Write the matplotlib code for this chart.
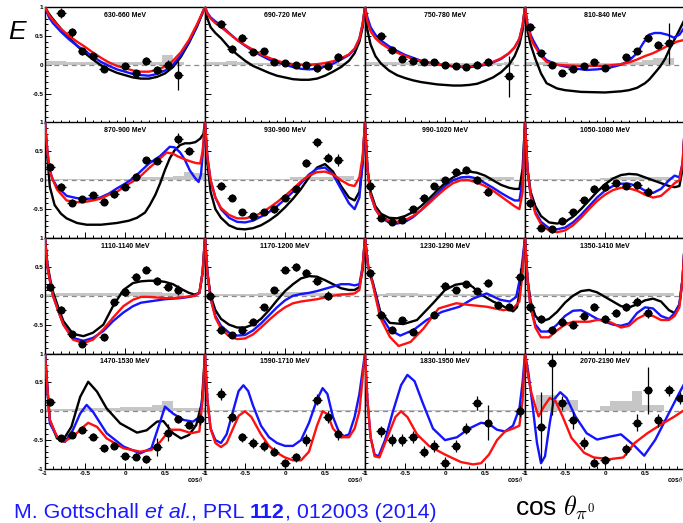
import numpy as np
import matplotlib
matplotlib.use("Agg")
import matplotlib.pyplot as plt
from matplotlib.ticker import MultipleLocator, FuncFormatter

plt.rcParams['font.family'] = ['Liberation Sans', 'DejaVu Sans']
plt.rcParams['mathtext.fontset'] = 'cm'
plt.rcParams['axes.unicode_minus'] = False

nan = np.nan

ENERGY_BINS = ["630-660 MeV", "690-720 MeV", "750-780 MeV", "810-840 MeV",
               "870-900 MeV", "930-960 MeV", "990-1020 MeV", "1050-1080 MeV",
               "1110-1140 MeV", "1170-1200 MeV", "1230-1290 MeV", "1350-1410 MeV",
               "1470-1530 MeV", "1590-1710 MeV", "1830-1950 MeV", "2070-2190 MeV"]

# cos(theta) bin centres of the measurement (15 bins)
COS_CENTERS = [-0.933, -0.8, -0.667, -0.533, -0.4, -0.267, -0.133, 0.0,
               0.133, 0.267, 0.4, 0.533, 0.667, 0.8, 0.933]
BIN_WIDTH = 0.1333

# ---- measured E, statistical errors, systematic errors (grey) ----
E_1 = [nan, 0.90, 0.56, 0.23, 0.15, -0.07, nan, -0.03, -0.15, 0.07, -0.09, 0.0, -0.18, nan, nan]
ERR_1 = [0, 0.09, 0.08, 0.06, 0.05, 0.06, 0, 0.05, 0.06, 0.06, 0.07, 0.08, 0.25, 0, 0]
SYS_1 = [0.06, 0.06, 0.05, 0.05, 0.04, 0.04, 0.04, 0.04, 0.04, 0.04, 0.05, 0.17, 0.04, 0, 0]

E_2 = [nan, 0.71, 0.28, 0.47, 0.22, 0.24, 0.05, 0.03, 0.0, 0.0, -0.06, -0.03, 0.13, nan, nan]
ERR_2 = [0, 0.07, 0.07, 0.06, 0.05, 0.05, 0.05, 0.05, 0.05, 0.05, 0.06, 0.06, 0.08, 0, 0]
SYS_2 = [0.04, 0.04, 0.07, 0.04, 0.03, 0.03, 0.03, 0.03, 0.03, 0.03, 0.03, 0.03, 0.03, 0, 0]

E_3 = [nan, 0.5, 0.25, 0.1, 0.07, 0.05, 0.05, 0.0, -0.02, -0.04, 0.0, 0.05, nan, -0.2, nan]
ERR_3 = [0, 0.07, 0.06, 0.05, 0.05, 0.05, 0.05, 0.05, 0.05, 0.05, 0.06, 0.07, 0, 0.35, 0]
SYS_3 = [0.04, 0.04, 0.04, 0.04, 0.03, 0.03, 0.03, 0.03, 0.03, 0.03, 0.03, 0.03, 0.03, 0.05, 0]

E_4 = [0.65, 0.2, 0.0, -0.14, -0.08, -0.03, 0.04, -0.06, nan, 0.14, 0.24, 0.46, 0.34, 0.37, nan]
ERR_4 = [0.07, 0.06, 0.05, 0.05, 0.05, 0.05, 0.05, 0.05, 0, 0.05, 0.05, 0.06, 0.07, 0.35, 0]
SYS_4 = [0.04, 0.04, 0.04, 0.04, 0.03, 0.03, 0.03, 0.03, 0.03, 0.04, 0.05, 0.08, 0.12, 0.12, 0]

E_5 = [0.23, -0.11, -0.39, -0.33, -0.26, -0.37, -0.24, -0.11, 0.06, 0.35, 0.34, nan, 0.72, 0.5, nan]
ERR_5 = [0.07, 0.06, 0.06, 0.05, 0.05, 0.06, 0.06, 0.06, 0.06, 0.06, 0.06, 0, 0.09, 0.07, 0]
SYS_5 = [0.03, 0.03, 0.03, 0.03, 0.03, 0.03, 0.03, 0.03, 0.04, 0.05, 0.06, 0.06, 0.08, 0.15, 0.12]

E_6 = [nan, -0.1, -0.3, -0.55, -0.62, -0.55, -0.5, -0.3, -0.15, 0.3, 0.66, 0.39, 0.35, nan, nan]
ERR_6 = [0, 0.07, 0.06, 0.06, 0.06, 0.06, 0.06, 0.06, 0.06, 0.07, 0.08, 0.08, 0.1, 0, 0]
SYS_6 = [0.03, 0.03, 0.03, 0.03, 0.03, 0.03, 0.03, 0.03, 0.05, 0.05, 0.06, 0.06, 0.08, 0.08, 0]

E_7 = [-0.1, -0.65, -0.72, -0.68, -0.5, -0.3, -0.1, 0.0, 0.15, 0.18, 0.0, -0.2, nan, nan, nan]
ERR_7 = [0.1, 0.06, 0.06, 0.06, 0.06, 0.06, 0.06, 0.06, 0.06, 0.06, 0.07, 0.08, 0, 0, 0]
SYS_7 = [0.03, 0.03, 0.03, 0.03, 0.03, 0.03, 0.03, 0.04, 0.04, 0.04, 0.05, 0.05, 0.05, 0.05, 0]

E_8 = [-0.4, -0.82, -0.85, -0.7, -0.55, -0.35, -0.15, -0.12, -0.05, -0.1, -0.08, -0.2, nan, nan, nan]
ERR_8 = [0.08, 0.06, 0.06, 0.06, 0.06, 0.06, 0.06, 0.06, 0.06, 0.06, 0.07, 0.08, 0, 0, 0]
SYS_8 = [0.03, 0.03, 0.03, 0.03, 0.03, 0.03, 0.03, 0.04, 0.05, 0.05, 0.06, 0.06, 0.06, 0.06, 0]

E_9 = [0.15, -0.24, -0.67, -0.83, nan, -0.72, -0.11, 0.06, 0.33, 0.45, 0.25, 0.15, 0.1, nan, nan]
ERR_9 = [0.06, 0.06, 0.06, 0.06, 0, 0.06, 0.06, 0.06, 0.06, 0.06, 0.07, 0.07, 0.08, 0, 0]
SYS_9 = [0.03, 0.04, 0.04, 0.04, 0.04, 0.05, 0.05, 0.07, 0.07, 0.07, 0.06, 0.05, 0.04, 0, 0]

E_10 = [0.0, -0.6, -0.68, -0.6, -0.45, -0.2, 0.1, 0.45, 0.5, 0.4, 0.25, 0.0, nan, nan, nan]
ERR_10 = [0.08, 0.06, 0.06, 0.06, 0.06, 0.06, 0.06, 0.06, 0.07, 0.07, 0.07, 0.08, 0, 0, 0]
SYS_10 = [0.03, 0.03, 0.03, 0.03, 0.03, 0.04, 0.05, 0.06, 0.06, 0.06, 0.05, 0.05, 0.05, 0.05, 0]

E_11 = [0.39, -0.33, -0.59, -0.42, -0.62, nan, -0.33, 0.17, 0.1, 0.2, 0.08, 0.22, -0.16, -0.19, 0.33]
ERR_11 = [0.08, 0.06, 0.06, 0.06, 0.06, 0, 0.06, 0.06, 0.06, 0.06, 0.06, 0.07, 0.06, 0.06, 0.15]
SYS_11 = [0.03, 0.03, 0.05, 0.05, 0.04, 0.03, 0.03, 0.03, 0.03, 0.03, 0.03, 0.03, 0.03, 0.03, 0.03]

E_12 = [-0.2, -0.4, -0.6, -0.45, -0.5, -0.35, -0.2, -0.4, -0.3, -0.2, -0.1, -0.3, nan, nan, nan]
ERR_12 = [0.08, 0.07, 0.07, 0.07, 0.07, 0.07, 0.07, 0.07, 0.07, 0.07, 0.08, 0.09, 0, 0, 0]
SYS_12 = [0.03, 0.03, 0.03, 0.03, 0.03, 0.03, 0.03, 0.05, 0.05, 0.05, 0.05, 0.05, 0.05, 0.05, 0]

E_13 = [0.16, -0.47, -0.41, -0.32, -0.44, -0.64, -0.6, -0.78, -0.79, -0.83, -0.62, -0.37, -0.14, -0.24, -0.14]
ERR_13 = [0.07, 0.06, 0.06, 0.06, 0.06, 0.06, 0.06, 0.06, 0.06, 0.06, 0.15, 0.15, 0.07, 0.06, 0.1]
SYS_13 = [0.04, 0.04, 0.04, 0.05, 0.06, 0.06, 0.06, 0.07, 0.07, 0.07, 0.11, 0.18, 0.05, 0.05, 0.05]

E_14 = [nan, 0.3, -0.1, -0.45, -0.55, -0.6, -0.7, -0.9, -0.8, -0.5, 0.2, -0.1, -0.4, nan, nan]
ERR_14 = [0, 0.1, 0.08, 0.08, 0.08, 0.08, 0.08, 0.08, 0.08, 0.1, 0.1, 0.1, 0.1, 0, 0]
SYS_14 = [0.03, 0.03, 0.03, 0.03, 0.03, 0.03, 0.03, 0.03, 0.03, 0.03, 0.03, 0.03, 0.03, 0.03, 0.03]

E_15 = [nan, -0.35, -0.5, -0.5, -0.45, -0.7, -0.6, -0.9, -0.6, -0.3, 0.15, -0.2, nan, nan, 0.0]
ERR_15 = [0, 0.1, 0.1, 0.1, 0.1, 0.1, 0.1, 0.1, 0.1, 0.1, 0.12, 0.3, 0, 0, 0.1]
SYS_15 = [0.02, 0.02, 0.02, 0.02, 0.02, 0.02, 0.02, 0.02, 0.02, 0.02, 0.02, 0.02, 0.02, 0.02, 0.02]

E_16 = [nan, -0.27, 0.83, 0.15, -0.16, -0.55, -0.89, -0.85, nan, -0.66, -0.2, 0.36, -0.16, 0.36, 0.23]
ERR_16 = [0, 0.6, 0.9, 0.12, 0.15, 0.1, 0.08, 0.08, 0, 0.1, 0.15, 0.4, 0.12, 0.1, 0.1]
SYS_16 = [0.0, 0.29, 0.29, 0.2, 0.2, 0.03, 0.03, 0.09, 0.18, 0.18, 0.35, 0.1, 0.1, 0, 0]

# ---- PWA curves: (cos theta, E) ----
BLACK_1 = [(-1, 1), (-0.95, 0.88), (-0.9, 0.79), (-0.8, 0.62), (-0.7, 0.47), (-0.6, 0.33), (-0.5, 0.2),
           (-0.4, 0.09), (-0.3, -0.01), (-0.2, -0.08), (-0.1, -0.14), (0, -0.18), (0.1, -0.22), (0.2, -0.24),
           (0.3, -0.24), (0.4, -0.21), (0.5, -0.15), (0.6, -0.04), (0.7, 0.14), (0.8, 0.38), (0.9, 0.66), (1, 1)]
BLUE_1 = [(-1, 1), (-0.95, 0.82), (-0.9, 0.72), (-0.8, 0.57), (-0.7, 0.44), (-0.6, 0.33), (-0.5, 0.24),
          (-0.4, 0.14), (-0.3, 0.05), (-0.2, -0.02), (-0.1, -0.08), (0, -0.12), (0.1, -0.16), (0.2, -0.18),
          (0.3, -0.19), (0.4, -0.16), (0.5, -0.1), (0.6, 0.0), (0.7, 0.17), (0.8, 0.4), (0.9, 0.68), (1, 1)]
RED_1 = [(-1, 1), (-0.95, 0.86), (-0.9, 0.77), (-0.8, 0.62), (-0.7, 0.5), (-0.6, 0.4), (-0.5, 0.31),
         (-0.4, 0.21), (-0.3, 0.12), (-0.2, 0.04), (-0.1, -0.02), (0, -0.06), (0.1, -0.1), (0.2, -0.12),
         (0.3, -0.12), (0.4, -0.09), (0.5, -0.03), (0.6, 0.07), (0.7, 0.22), (0.8, 0.43), (0.9, 0.7), (1, 1)]

BLACK_2 = [(-1, 1), (-0.97, 0.8), (-0.93, 0.65), (-0.87, 0.55), (-0.8, 0.46), (-0.7, 0.3), (-0.6, 0.18),
           (-0.5, 0.07), (-0.4, -0.02), (-0.3, -0.08), (-0.2, -0.14), (-0.1, -0.19), (0, -0.22), (0.1, -0.25),
           (0.2, -0.26), (0.3, -0.26), (0.4, -0.24), (0.5, -0.19), (0.6, -0.12), (0.7, -0.04), (0.8, 0.07),
           (0.87, 0.2), (0.93, 0.4), (0.97, 0.65), (1, 1)]
BLUE_2 = [(-1, 1), (-0.97, 0.9), (-0.93, 0.82), (-0.87, 0.75), (-0.8, 0.68), (-0.7, 0.55), (-0.6, 0.43),
          (-0.5, 0.33), (-0.4, 0.24), (-0.3, 0.16), (-0.2, 0.09), (-0.1, 0.04), (0, 0.0), (0.1, -0.04),
          (0.2, -0.07), (0.3, -0.08), (0.4, -0.07), (0.5, -0.03), (0.6, 0.02), (0.7, 0.09), (0.8, 0.17),
          (0.87, 0.27), (0.93, 0.45), (0.97, 0.7), (1, 1)]
RED_2 = [(-1, 1), (-0.97, 0.88), (-0.93, 0.8), (-0.87, 0.72), (-0.8, 0.65), (-0.7, 0.54), (-0.6, 0.43),
         (-0.5, 0.34), (-0.4, 0.26), (-0.3, 0.18), (-0.2, 0.12), (-0.1, 0.07), (0, 0.03), (0.1, 0.01),
         (0.2, 0.0), (0.3, 0.0), (0.4, 0.01), (0.5, 0.03), (0.6, 0.06), (0.7, 0.11), (0.8, 0.18),
         (0.87, 0.28), (0.93, 0.45), (0.97, 0.7), (1, 1)]

BLACK_3 = [(-1, 1), (-0.97, 0.6), (-0.93, 0.35), (-0.87, 0.15), (-0.8, 0.02), (-0.7, -0.1), (-0.6, -0.18),
           (-0.5, -0.23), (-0.4, -0.27), (-0.3, -0.3), (-0.2, -0.32), (-0.1, -0.34), (0, -0.35), (0.1, -0.36),
           (0.2, -0.36), (0.3, -0.35), (0.4, -0.33), (0.5, -0.28), (0.6, -0.22), (0.7, -0.13), (0.8, 0.0),
           (0.87, 0.15), (0.93, 0.35), (0.97, 0.6), (1, 1)]
BLUE_3 = [(-1, 1), (-0.97, 0.82), (-0.93, 0.65), (-0.87, 0.52), (-0.8, 0.42), (-0.7, 0.32), (-0.6, 0.24),
          (-0.5, 0.17), (-0.4, 0.12), (-0.3, 0.07), (-0.2, 0.04), (-0.1, 0.01), (0, -0.01), (0.1, -0.03),
          (0.2, -0.04), (0.3, -0.04), (0.4, -0.03), (0.5, 0.0), (0.6, 0.04), (0.7, 0.1), (0.8, 0.2),
          (0.87, 0.3), (0.93, 0.45), (0.97, 0.68), (1, 1)]
RED_3 = [(-1, 1), (-0.97, 0.75), (-0.93, 0.58), (-0.87, 0.46), (-0.8, 0.37), (-0.7, 0.28), (-0.6, 0.21),
         (-0.5, 0.15), (-0.4, 0.1), (-0.3, 0.06), (-0.2, 0.03), (-0.1, 0.01), (0, -0.01), (0.1, -0.02),
         (0.2, -0.03), (0.3, -0.03), (0.4, -0.02), (0.5, 0.01), (0.6, 0.05), (0.7, 0.11), (0.8, 0.2),
         (0.87, 0.3), (0.93, 0.45), (0.97, 0.68), (1, 1)]

BLACK_4 = [(-1, 1), (-0.97, 0.6), (-0.93, 0.35), (-0.87, 0.1), (-0.8, -0.15), (-0.73, -0.32), (-0.6, -0.41),
           (-0.5, -0.44), (-0.3, -0.47), (0, -0.48), (0.2, -0.46), (0.3, -0.44), (0.4, -0.4), (0.5, -0.32),
           (0.55, -0.26), (0.6, -0.18), (0.69, -0.03), (0.75, 0.1), (0.82, 0.31), (0.9, 0.52), (0.99, 0.77), (1, 1)]
BLUE_4 = [(-1, 1), (-0.97, 0.72), (-0.93, 0.52), (-0.9, 0.43), (-0.8, 0.18), (-0.73, 0.08), (-0.6, 0.0),
          (-0.5, -0.03), (-0.4, -0.06), (-0.23, -0.09), (-0.1, -0.08), (0.03, -0.06), (0.2, 0.0), (0.3, 0.07),
          (0.4, 0.2), (0.48, 0.38), (0.55, 0.52), (0.62, 0.55), (0.69, 0.55), (0.78, 0.52), (0.86, 0.47),
          (0.93, 0.52), (0.99, 0.64), (1, 1)]
RED_4 = [(-1, 1), (-0.97, 0.7), (-0.93, 0.48), (-0.9, 0.37), (-0.8, 0.15), (-0.73, 0.05), (-0.6, 0.0),
         (-0.5, -0.01), (-0.3, -0.02), (0, -0.02), (0.2, 0.01), (0.3, 0.04), (0.4, 0.09), (0.5, 0.15),
         (0.6, 0.2), (0.69, 0.26), (0.8, 0.34), (0.9, 0.4), (0.99, 0.43), (1, 1)]

BLACK_5 = [(-1, 1), (-0.97, 0.4), (-0.94, -0.11), (-0.88, -0.43), (-0.8, -0.58), (-0.73, -0.66), (-0.6, -0.74),
           (-0.48, -0.77), (-0.3, -0.77), (-0.1, -0.74), (0.05, -0.7), (0.15, -0.65), (0.25, -0.56), (0.31, -0.43),
           (0.38, -0.25), (0.44, -0.05), (0.5, 0.18), (0.56, 0.38), (0.62, 0.52), (0.69, 0.61), (0.75, 0.64),
           (0.81, 0.64), (0.88, 0.66), (0.94, 0.72), (0.98, 0.8), (1, 1)]
BLUE_5 = [(-1, 1), (-0.97, 0.5), (-0.94, 0.17), (-0.9, 0.0), (-0.85, -0.11), (-0.73, -0.27), (-0.6, -0.31),
          (-0.52, -0.32), (-0.4, -0.32), (-0.31, -0.3), (-0.2, -0.23), (-0.1, -0.14), (0.0, -0.06), (0.1, 0.03),
          (0.2, 0.16), (0.3, 0.29), (0.44, 0.42), (0.56, 0.58), (0.62, 0.57), (0.69, 0.48), (0.75, 0.35),
          (0.81, 0.17), (0.87, 0.05), (0.92, -0.03), (0.95, 0.1), (0.98, 0.6), (1, 1)]
RED_5 = [(-1, 1), (-0.97, 0.5), (-0.94, 0.15), (-0.9, 0.0), (-0.85, -0.16), (-0.73, -0.35), (-0.6, -0.38),
         (-0.52, -0.38), (-0.4, -0.35), (-0.31, -0.32), (-0.2, -0.25), (-0.1, -0.2), (0, -0.1), (0.1, -0.02),
         (0.2, 0.08), (0.3, 0.21), (0.4, 0.33), (0.52, 0.48), (0.6, 0.46), (0.65, 0.42), (0.75, 0.36),
         (0.81, 0.33), (0.88, 0.3), (0.94, 0.29), (0.97, 0.5), (1, 1)]

BLACK_6 = [(-1, 1), (-0.97, 0.3), (-0.93, -0.2), (-0.87, -0.5), (-0.8, -0.65), (-0.7, -0.78), (-0.6, -0.84),
           (-0.5, -0.85), (-0.4, -0.83), (-0.3, -0.78), (-0.2, -0.7), (-0.1, -0.6), (0, -0.47), (0.1, -0.32),
           (0.2, -0.15), (0.3, 0.05), (0.4, 0.22), (0.5, 0.28), (0.6, 0.15), (0.7, -0.1), (0.8, -0.3),
           (0.87, -0.35), (0.93, -0.2), (0.97, 0.3), (1, 1)]
BLUE_6 = [(-1, 1), (-0.97, 0.4), (-0.93, 0.0), (-0.87, -0.3), (-0.8, -0.5), (-0.7, -0.65), (-0.6, -0.72),
          (-0.5, -0.73), (-0.4, -0.7), (-0.3, -0.63), (-0.2, -0.55), (-0.1, -0.45), (0, -0.33), (0.1, -0.2),
          (0.2, -0.05), (0.3, 0.1), (0.4, 0.2), (0.5, 0.22), (0.6, 0.1), (0.7, -0.15), (0.8, -0.4),
          (0.87, -0.5), (0.93, -0.3), (0.97, 0.3), (1, 1)]
RED_6 = [(-1, 1), (-0.97, 0.4), (-0.93, 0.0), (-0.87, -0.3), (-0.8, -0.48), (-0.7, -0.6), (-0.6, -0.66),
         (-0.5, -0.66), (-0.4, -0.63), (-0.3, -0.57), (-0.2, -0.48), (-0.1, -0.38), (0, -0.27), (0.1, -0.15),
         (0.2, -0.02), (0.3, 0.08), (0.4, 0.14), (0.5, 0.15), (0.6, 0.1), (0.7, 0.0), (0.8, -0.08),
         (0.87, -0.1), (0.93, 0.05), (0.97, 0.4), (1, 1)]

BLACK_7 = [(-1, 1), (-0.97, 0.2), (-0.93, -0.2), (-0.87, -0.45), (-0.8, -0.58), (-0.7, -0.65), (-0.6, -0.66),
           (-0.5, -0.62), (-0.4, -0.55), (-0.3, -0.45), (-0.2, -0.32), (-0.1, -0.18), (0, -0.05), (0.1, 0.05),
           (0.2, 0.12), (0.3, 0.15), (0.4, 0.13), (0.5, 0.08), (0.6, 0.0), (0.7, -0.08), (0.8, -0.13),
           (0.87, -0.15), (0.93, -0.15), (0.97, 0.2), (1, 1)]
BLUE_7 = [(-1, 1), (-0.97, 0.2), (-0.93, -0.25), (-0.87, -0.5), (-0.8, -0.65), (-0.7, -0.73), (-0.6, -0.75),
          (-0.5, -0.72), (-0.4, -0.64), (-0.3, -0.52), (-0.2, -0.38), (-0.1, -0.24), (0, -0.1), (0.1, 0.0),
          (0.2, 0.05), (0.3, 0.06), (0.4, 0.03), (0.5, -0.05), (0.6, -0.13), (0.7, -0.22), (0.8, -0.3),
          (0.87, -0.35), (0.93, -0.35), (0.97, 0.0), (1, 1)]
RED_7 = [(-1, 1), (-0.97, 0.2), (-0.93, -0.25), (-0.87, -0.5), (-0.8, -0.63), (-0.7, -0.7), (-0.6, -0.72),
         (-0.5, -0.69), (-0.4, -0.62), (-0.3, -0.52), (-0.2, -0.4), (-0.1, -0.27), (0, -0.15), (0.1, -0.05),
         (0.2, 0.0), (0.3, 0.0), (0.4, -0.04), (0.5, -0.1), (0.6, -0.18), (0.7, -0.28), (0.8, -0.38),
         (0.87, -0.45), (0.93, -0.5), (0.97, -0.2), (1, 1)]

BLACK_8 = [(-1, 1), (-0.97, 0.2), (-0.93, -0.2), (-0.87, -0.45), (-0.8, -0.62), (-0.7, -0.73), (-0.6, -0.75),
           (-0.5, -0.72), (-0.4, -0.63), (-0.3, -0.5), (-0.2, -0.35), (-0.1, -0.2), (0, -0.07), (0.1, 0.03),
           (0.2, 0.09), (0.3, 0.11), (0.4, 0.1), (0.5, 0.05), (0.6, 0.0), (0.7, -0.05), (0.8, -0.1),
           (0.87, -0.12), (0.93, -0.1), (0.97, 0.2), (1, 1)]
BLUE_8 = [(-1, 1), (-0.97, 0.2), (-0.93, -0.25), (-0.87, -0.55), (-0.8, -0.72), (-0.7, -0.83), (-0.6, -0.85),
          (-0.5, -0.82), (-0.4, -0.73), (-0.3, -0.6), (-0.2, -0.45), (-0.1, -0.3), (0, -0.18), (0.1, -0.1),
          (0.2, -0.06), (0.3, -0.06), (0.4, -0.1), (0.5, -0.18), (0.6, -0.22), (0.7, -0.15), (0.8, 0.0),
          (0.87, 0.08), (0.93, 0.05), (0.97, 0.3), (1, 1)]
RED_8 = [(-1, 1), (-0.97, 0.2), (-0.93, -0.25), (-0.87, -0.58), (-0.8, -0.76), (-0.7, -0.87), (-0.6, -0.9),
         (-0.5, -0.87), (-0.4, -0.78), (-0.3, -0.65), (-0.2, -0.5), (-0.1, -0.36), (0, -0.25), (0.1, -0.17),
         (0.2, -0.13), (0.3, -0.14), (0.4, -0.18), (0.5, -0.25), (0.6, -0.3), (0.7, -0.27), (0.8, -0.15),
         (0.87, -0.05), (0.93, 0.0), (0.97, 0.3), (1, 1)]

BLACK_9 = [(-1, 1), (-0.97, 0.55), (-0.93, 0.25), (-0.9, 0.07), (-0.83, -0.22), (-0.77, -0.44), (-0.65, -0.66),
           (-0.52, -0.7), (-0.4, -0.64), (-0.27, -0.5), (-0.15, -0.18), (-0.02, 0.1), (0.1, 0.22), (0.2, 0.25),
           (0.3, 0.26), (0.4, 0.26), (0.5, 0.24), (0.6, 0.2), (0.7, 0.12), (0.8, 0.05), (0.87, 0.02),
           (0.93, 0.05), (0.97, 0.4), (1, 1)]
BLUE_9 = [(-1, 1), (-0.97, 0.5), (-0.93, 0.2), (-0.9, 0.0), (-0.83, -0.28), (-0.77, -0.5), (-0.65, -0.73),
          (-0.52, -0.78), (-0.4, -0.73), (-0.27, -0.61), (-0.15, -0.44), (-0.02, -0.29), (0.1, -0.18),
          (0.2, -0.12), (0.3, -0.1), (0.4, -0.08), (0.5, -0.06), (0.6, -0.05), (0.7, -0.04), (0.8, -0.02),
          (0.87, 0.0), (0.93, 0.05), (0.97, 0.4), (1, 1)]
RED_9 = [(-1, 1), (-0.97, 0.5), (-0.93, 0.2), (-0.9, 0.0), (-0.83, -0.28), (-0.77, -0.5), (-0.65, -0.76),
         (-0.52, -0.82), (-0.4, -0.76), (-0.27, -0.58), (-0.15, -0.38), (-0.02, -0.18), (0.1, -0.07),
         (0.2, -0.02), (0.3, -0.02), (0.4, -0.03), (0.5, -0.04), (0.6, -0.04), (0.7, -0.03), (0.8, -0.01),
         (0.87, 0.0), (0.93, 0.05), (0.97, 0.4), (1, 1)]

BLACK_10 = [(-1, 1), (-0.97, 0.4), (-0.93, 0.0), (-0.87, -0.25), (-0.8, -0.4), (-0.7, -0.5), (-0.6, -0.55),
            (-0.5, -0.55), (-0.4, -0.5), (-0.3, -0.4), (-0.2, -0.25), (-0.1, -0.08), (0, 0.08), (0.1, 0.2),
            (0.2, 0.3), (0.3, 0.34), (0.4, 0.33), (0.5, 0.27), (0.6, 0.2), (0.7, 0.13), (0.8, 0.1),
            (0.87, 0.1), (0.93, 0.15), (0.97, 0.45), (1, 1)]
BLUE_10 = [(-1, 1), (-0.97, 0.4), (-0.93, -0.05), (-0.87, -0.35), (-0.8, -0.52), (-0.7, -0.64), (-0.6, -0.69),
           (-0.5, -0.68), (-0.4, -0.6), (-0.3, -0.48), (-0.2, -0.34), (-0.1, -0.2), (0, -0.08), (0.1, 0.0),
           (0.2, 0.03), (0.3, 0.05), (0.4, 0.08), (0.5, 0.12), (0.6, 0.16), (0.7, 0.2), (0.8, 0.2),
           (0.87, 0.18), (0.93, 0.2), (0.97, 0.5), (1, 1)]
RED_10 = [(-1, 1), (-0.97, 0.4), (-0.93, -0.05), (-0.87, -0.38), (-0.8, -0.57), (-0.7, -0.7), (-0.6, -0.75),
          (-0.5, -0.74), (-0.4, -0.67), (-0.3, -0.55), (-0.2, -0.42), (-0.1, -0.3), (0, -0.2), (0.1, -0.13),
          (0.2, -0.1), (0.3, -0.08), (0.4, -0.06), (0.5, -0.03), (0.6, 0.0), (0.7, 0.02), (0.8, 0.03),
          (0.87, 0.04), (0.93, 0.1), (0.97, 0.5), (1, 1)]

BLACK_11 = [(-1, 1), (-0.96, 0.5), (-0.9, 0.22), (-0.81, -0.27), (-0.69, -0.47), (-0.52, -0.49), (-0.35, -0.42),
            (-0.15, -0.13), (0.0, 0.1), (0.13, 0.19), (0.26, 0.22), (0.35, 0.15), (0.43, 0.04), (0.6, -0.1),
            (0.77, -0.21), (0.85, -0.27), (0.9, -0.2), (0.93, 0.04), (0.97, 0.5), (1, 1)]
BLUE_11 = [(-1, 1), (-0.96, 0.5), (-0.9, 0.2), (-0.81, -0.32), (-0.69, -0.59), (-0.56, -0.69), (-0.39, -0.59),
           (-0.23, -0.42), (-0.04, -0.28), (0.18, -0.19), (0.35, -0.05), (0.52, 0.04), (0.69, -0.07),
           (0.81, -0.1), (0.89, -0.02), (0.95, 0.39), (1, 1)]
RED_11 = [(-1, 1), (-0.96, 0.5), (-0.9, 0.18), (-0.81, -0.38), (-0.69, -0.71), (-0.58, -0.87), (-0.43, -0.8),
          (-0.27, -0.57), (-0.08, -0.22), (0.14, -0.13), (0.31, -0.16), (0.52, -0.19), (0.73, -0.25),
          (0.85, -0.22), (0.93, -0.1), (0.97, 0.4), (1, 1)]

BLACK_12 = [(-1, 1), (-0.97, 0.3), (-0.93, -0.1), (-0.87, -0.35), (-0.8, -0.45), (-0.7, -0.4), (-0.6, -0.28),
            (-0.5, -0.12), (-0.4, 0.0), (-0.3, 0.08), (-0.2, 0.1), (-0.1, 0.06), (0, -0.02), (0.1, -0.1),
            (0.2, -0.18), (0.3, -0.2), (0.4, -0.15), (0.5, -0.08), (0.6, -0.05), (0.7, -0.1), (0.8, -0.25),
            (0.87, -0.3), (0.93, -0.15), (0.97, 0.3), (1, 1)]
BLUE_12 = [(-1, 1), (-0.97, 0.3), (-0.93, -0.2), (-0.87, -0.5), (-0.8, -0.62), (-0.7, -0.62), (-0.6, -0.5),
           (-0.5, -0.35), (-0.4, -0.26), (-0.3, -0.25), (-0.2, -0.32), (-0.1, -0.4), (0, -0.45), (0.1, -0.5),
           (0.2, -0.52), (0.3, -0.48), (0.4, -0.3), (0.5, -0.2), (0.6, -0.22), (0.7, -0.35), (0.8, -0.4),
           (0.87, -0.3), (0.93, -0.15), (0.97, 0.3), (1, 1)]
RED_12 = [(-1, 1), (-0.97, 0.3), (-0.93, -0.2), (-0.87, -0.55), (-0.8, -0.72), (-0.7, -0.72), (-0.6, -0.6),
          (-0.5, -0.5), (-0.4, -0.45), (-0.3, -0.45), (-0.2, -0.45), (-0.1, -0.42), (0, -0.42), (0.1, -0.48),
          (0.2, -0.55), (0.3, -0.52), (0.4, -0.4), (0.5, -0.33), (0.6, -0.35), (0.7, -0.42), (0.8, -0.42),
          (0.87, -0.35), (0.93, -0.2), (0.97, 0.3), (1, 1)]

BLACK_13 = [(-1, 1), (-0.97, 0.4), (-0.94, -0.15), (-0.85, -0.47), (-0.77, -0.49), (-0.67, -0.27), (-0.56, 0.25),
            (-0.46, 0.51), (-0.35, 0.34), (-0.23, 0.05), (-0.06, -0.21), (0.15, -0.37), (0.27, -0.33),
            (0.4, -0.18), (0.48, -0.17), (0.6, -0.38), (0.7, -0.47), (0.8, -0.41), (0.89, -0.24), (0.96, 0.14), (1, 1)]
BLUE_13 = [(-1, 1), (-0.97, 0.4), (-0.94, -0.21), (-0.85, -0.44), (-0.75, -0.53), (-0.65, -0.32), (-0.56, -0.04),
           (-0.48, 0.11), (-0.4, -0.01), (-0.23, -0.38), (-0.02, -0.61), (0.19, -0.73), (0.33, -0.64),
           (0.44, -0.18), (0.5, 0.08), (0.6, -0.04), (0.73, -0.15), (0.85, -0.18), (0.94, -0.09), (0.98, 0.4), (1, 1)]
RED_13 = [(-1, 1), (-0.97, 0.4), (-0.94, -0.15), (-0.85, -0.44), (-0.77, -0.53), (-0.65, -0.44), (-0.52, -0.27),
          (-0.46, -0.2), (-0.35, -0.27), (-0.23, -0.47), (-0.02, -0.64), (0.19, -0.7), (0.33, -0.67),
          (0.44, -0.53), (0.56, -0.32), (0.69, -0.32), (0.83, -0.38), (0.93, -0.35), (0.97, 0.2), (1, 1)]

BLUE_14 = [(-1, 1), (-0.97, 0.2), (-0.93, -0.3), (-0.87, -0.5), (-0.8, -0.55), (-0.73, -0.4), (-0.65, 0.0),
           (-0.58, 0.35), (-0.52, 0.45), (-0.46, 0.35), (-0.4, 0.1), (-0.3, -0.25), (-0.2, -0.45), (-0.1, -0.55),
           (0.0, -0.6), (0.1, -0.6), (0.2, -0.5), (0.3, -0.2), (0.4, 0.2), (0.47, 0.4), (0.53, 0.3),
           (0.6, -0.1), (0.7, -0.45), (0.8, -0.4), (0.87, -0.1), (0.93, 0.3), (1, 1)]
RED_14 = [(-1, 1), (-0.97, 0.2), (-0.93, -0.3), (-0.87, -0.55), (-0.8, -0.62), (-0.73, -0.55), (-0.65, -0.3),
          (-0.58, -0.08), (-0.5, 0.0), (-0.42, -0.1), (-0.3, -0.4), (-0.2, -0.6), (-0.1, -0.72), (0.0, -0.8),
          (0.1, -0.85), (0.2, -0.85), (0.3, -0.7), (0.4, -0.25), (0.47, 0.0), (0.53, -0.05), (0.6, -0.3),
          (0.7, -0.45), (0.8, -0.45), (0.87, -0.3), (0.93, 0.0), (1, 1)]

BLUE_15 = [(-1, 1), (-0.97, 0.2), (-0.93, -0.45), (-0.88, -0.75), (-0.83, -0.78), (-0.75, -0.5), (-0.65, 0.0),
           (-0.55, 0.45), (-0.47, 0.63), (-0.38, 0.52), (-0.28, 0.15), (-0.15, -0.3), (0.0, -0.5), (0.15, -0.45),
           (0.3, -0.3), (0.45, -0.2), (0.55, -0.22), (0.65, -0.32), (0.75, -0.35), (0.85, -0.25), (0.93, 0.05),
           (0.97, 0.5), (1, 1)]
RED_15 = [(-1, 1), (-0.97, 0.2), (-0.93, -0.45), (-0.88, -0.78), (-0.82, -0.8), (-0.72, -0.45), (-0.62, -0.1),
          (-0.55, 0.0), (-0.47, -0.1), (-0.35, -0.4), (-0.2, -0.6), (0.0, -0.75), (0.2, -0.88), (0.35, -0.92),
          (0.45, -0.9), (0.55, -0.75), (0.65, -0.5), (0.75, -0.35), (0.85, -0.3), (0.93, -0.25), (0.97, 0.2),
          (1, 1)]

BLUE_16 = [(-1, 1), (-0.96, 0.69), (-0.91, 0.15), (-0.85, -0.55), (-0.8, -0.9), (-0.75, -0.78), (-0.69, -0.2),
           (-0.64, 0.2), (-0.56, 0.33), (-0.48, 0.23), (-0.37, -0.09), (-0.23, -0.38), (-0.1, -0.49),
           (0.06, -0.44), (0.2, -0.4), (0.37, -0.6), (0.49, -0.77), (0.63, -0.49), (0.8, -0.03),
           (0.93, 0.32), (1, 0.5)]
RED_16 = [(-1, 1), (-0.96, 0.6), (-0.92, 0.32), (-0.86, 0.03), (-0.83, -0.09), (-0.76, 0.09), (-0.69, 0.23),
          (-0.62, 0.18), (-0.53, -0.09), (-0.42, -0.46), (-0.26, -0.72), (-0.14, -0.8), (0.06, -0.83),
          (0.23, -0.8), (0.37, -0.55), (0.53, -0.38), (0.7, -0.23), (0.87, -0.09), (1, 0.03)]

PANELS = [
    (E_1, ERR_1, SYS_1, BLACK_1, BLUE_1, RED_1),
    (E_2, ERR_2, SYS_2, BLACK_2, BLUE_2, RED_2),
    (E_3, ERR_3, SYS_3, BLACK_3, BLUE_3, RED_3),
    (E_4, ERR_4, SYS_4, BLACK_4, BLUE_4, RED_4),
    (E_5, ERR_5, SYS_5, BLACK_5, BLUE_5, RED_5),
    (E_6, ERR_6, SYS_6, BLACK_6, BLUE_6, RED_6),
    (E_7, ERR_7, SYS_7, BLACK_7, BLUE_7, RED_7),
    (E_8, ERR_8, SYS_8, BLACK_8, BLUE_8, RED_8),
    (E_9, ERR_9, SYS_9, BLACK_9, BLUE_9, RED_9),
    (E_10, ERR_10, SYS_10, BLACK_10, BLUE_10, RED_10),
    (E_11, ERR_11, SYS_11, BLACK_11, BLUE_11, RED_11),
    (E_12, ERR_12, SYS_12, BLACK_12, BLUE_12, RED_12),
    (E_13, ERR_13, SYS_13, BLACK_13, BLUE_13, RED_13),
    (E_14, ERR_14, SYS_14, None, BLUE_14, RED_14),
    (E_15, ERR_15, SYS_15, None, BLUE_15, RED_15),
    (E_16, ERR_16, SYS_16, None, BLUE_16, RED_16),
]

W, H = 683, 523
fig = plt.figure(figsize=(W / 100, H / 100), dpi=100)
fig.patch.set_facecolor('white')

X0, Y0 = 45.0, 7.0          # pixel position of the top-left panel corner
PW, PH = 160.0, 115.5       # panel size in pixels


def fmt_tick(v, pos, last_row):
    v = round(v, 2)
    if v == -1 and not last_row:
        return ''
    return '%g' % v


for i, (E, ERR, SYS, blk, blu, red) in enumerate(PANELS):
    row, col = divmod(i, 4)
    left = X0 + col * PW
    top = Y0 + row * PH
    ax = fig.add_axes([left / W, (H - top - PH) / H, PW / W, PH / H])
    ax.set_xlim(-1, 1)
    ax.set_ylim(-1, 1)

    ax.bar(COS_CENTERS, SYS, width=BIN_WIDTH, color='#c6c6c6', edgecolor='none', zorder=1)
    ax.axhline(0, color='#8a8a8a', lw=0.9, ls=(0, (4, 3)), zorder=2)

    for curve, colour, z in ((blk, 'black', 3), (blu, '#1414ff', 4), (red, '#ff1010', 5)):
        if curve is None:
            continue
        cx, cy = zip(*curve)
        ax.plot(cx, cy, color=colour, lw=1.7, zorder=z, solid_joinstyle='round')

    xs = np.array(COS_CENTERS)
    ys = np.array(E, dtype=float)
    es = np.array(ERR, dtype=float)
    ok = ~np.isnan(ys)
    ax.errorbar(xs[ok], ys[ok], yerr=es[ok], xerr=BIN_WIDTH / 2 * 0.9, fmt='o', ms=4.8,
                color='black', mec='black', elinewidth=0.9, capsize=0, zorder=6)

    ax.text(0.5, 0.93, ENERGY_BINS[i], transform=ax.transAxes, ha='center', va='center',
            fontsize=5, fontweight='bold', zorder=7)

    ax.xaxis.set_major_locator(MultipleLocator(0.5))
    ax.xaxis.set_minor_locator(MultipleLocator(0.1))
    ax.yaxis.set_major_locator(MultipleLocator(0.5))
    ax.yaxis.set_minor_locator(MultipleLocator(0.1))
    ax.tick_params(which='both', direction='in', top=False, right=False, width=0.7, pad=1.2,
                   labelsize=4.6)
    ax.tick_params(which='major', length=4)
    ax.tick_params(which='minor', length=2)
    last = (row == 3)
    ax.xaxis.set_major_formatter(FuncFormatter(lambda v, p: '%g' % round(v, 2)))
    ax.yaxis.set_major_formatter(FuncFormatter(lambda v, p, L=last: fmt_tick(v, p, L)))
    for lab in ax.get_xticklabels() + ax.get_yticklabels():
        lab.set_fontweight('bold')
    if col != 0:
        ax.set_yticklabels([])
    if row != 3:
        ax.set_xticklabels([])
    else:
        ax.text(0.94, -0.095, r'cos$\theta$', transform=ax.transAxes, ha='center', va='center',
                fontsize=4.8, fontweight='bold')
    for s in ax.spines.values():
        s.set_linewidth(1.0)

fig.text(8 / W, 1 - 32 / H, 'E', fontsize=19, fontstyle='italic', ha='left', va='center')
fig.text(515 / W, 1 - 515 / H, r'cos $\theta_{\pi^0}$', fontsize=19, ha='left', va='baseline')

# reference line
fig.canvas.draw()
r = fig.canvas.get_renderer()
pieces = [("M. Gottschall ", 'normal', 'normal'), ("et al.", 'italic', 'normal'),
          (", PRL ", 'normal', 'normal'), ("112", 'normal', 'bold'),
          (", 012003 (2014)", 'normal', 'normal')]
xpos = 14.0
for txt, style, weight in pieces:
    t = fig.text(xpos / W, 1 - 518 / H, txt, fontsize=15.4, color='#1a1aff', style=style,
                 weight=weight, ha='left', va='baseline')
    bb = t.get_window_extent(renderer=r)
    xpos += bb.width

fig.savefig('out.png', dpi=100)
